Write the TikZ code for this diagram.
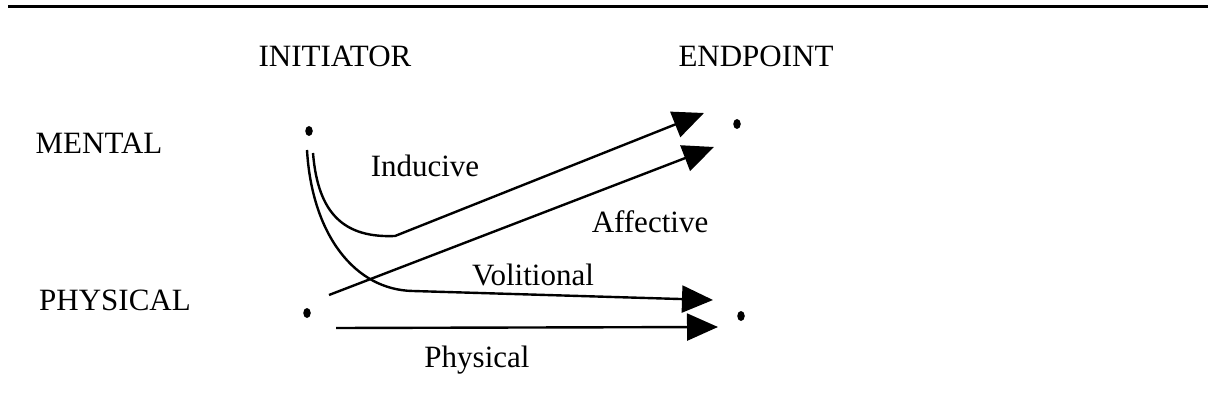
\documentclass[tikz,border=0pt]{standalone}
\usepackage{fontspec}
\setmainfont{Liberation Serif}
\usetikzlibrary{arrows.meta,shapes.geometric}
\begin{document}
\begin{tikzpicture}[x=1pt,y=-1pt,
  lbl/.style={anchor=base,inner sep=0pt,font=\fontsize{31}{31}\selectfont},
  pointdot/.style={ellipse,fill=black,minimum width=7.5pt,minimum height=10pt,inner sep=0pt},
  link/.style={line width=2.4pt,-{Triangle[length=31pt,width=27pt]}}]
  \useasboundingbox (0,0) rectangle (1208,406);
  % top rule
  \draw[line width=3pt] (8,7) -- (1208,7);

  % column and row headings
  \node[lbl] (init) at (335,67) {INITIATOR};
  \node[lbl] (endp) at (756,67) {ENDPOINT};
  \node[lbl] (ment) at (99,154) {MENTAL};
  \node[lbl] (phys) at (115,310) {PHYSICAL};

  % the four points
  \node[pointdot] (mi) at (309,131) {};
  \node[pointdot] (me) at (737,124) {};
  \node[pointdot] (pi) at (307,313) {};
  \node[pointdot] (pe) at (741,316) {};

  % start and end points of the links
  \coordinate (ind0) at (313,153);
  \coordinate (ind1) at (395,236);
  \coordinate (ind2) at (704,113);
  \coordinate (vol0) at (307,150);
  \coordinate (vol1) at (413,291);
  \coordinate (vol2) at (713,300);
  \coordinate (aff0) at (329,295);
  \coordinate (aff2) at (714,147);
  \coordinate (phy0) at (336,328);
  \coordinate (phy2) at (718,327);

  % links
  \draw[link] (ind0) .. controls (318,215) and (345,238) .. (ind1) -- (ind2);
  \draw[link] (vol0) .. controls (312,235) and (355,290) .. (vol1) -- (vol2);
  \draw[link] (aff0) -- (aff2);
  \draw[link] (phy0) -- (phy2);

  % link labels
  \node[lbl] (lind) at (425,177) {Inducive};
  \node[lbl] (laff) at (650,233) {Affective};
  \node[lbl] (lvol) at (533,285) {Volitional};
  \node[lbl] (lphy) at (477,367) {Physical};
\end{tikzpicture}
\end{document}
